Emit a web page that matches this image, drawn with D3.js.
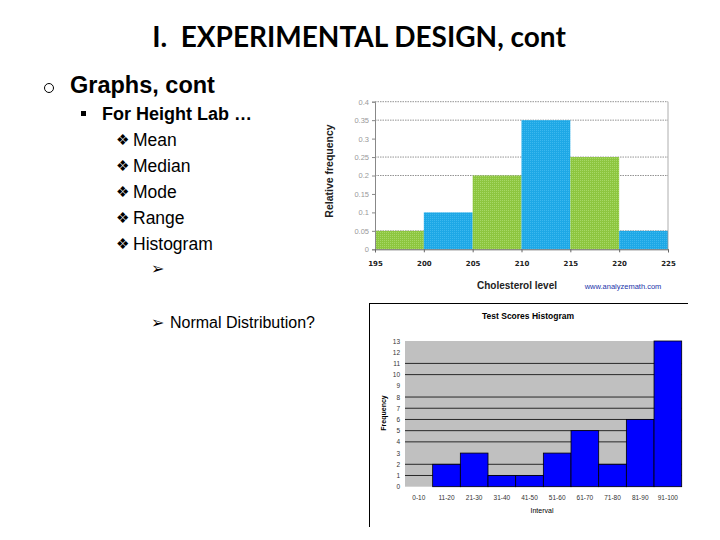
<!DOCTYPE html>
<html>
<head>
<meta charset="utf-8">
<script src="https://cdn.jsdelivr.net/npm/d3@7"></script>
<style>
  html, body { margin: 0; padding: 0; background: #fff; }
  svg { display: block; }
</style>
</head>
<body>
<div id="slide"></div>
<script>
// Cholesterol histogram (top chart)
const cholBins = [195, 200, 205, 210, 215, 220, 225];
const cholRelFreq = [0.05, 0.1, 0.2, 0.35, 0.25, 0.05];
const cholYTicks = [0, 0.05, 0.1, 0.15, 0.2, 0.25, 0.3, 0.35, 0.4];
const cholGrid = [0.05, 0.2, 0.25, 0.35, 0.4];

// Test scores histogram (bottom chart)
const scoreIntervals = ['0-10', '11-20', '21-30', '31-40', '41-50', '51-60', '61-70', '71-80', '81-90', '91-100'];
const scoreFreq = [0, 2, 3, 1, 1, 3, 5, 2, 6, 13];
const scoreYTicks = [0, 1, 2, 3, 4, 5, 6, 7, 8, 9, 10, 11, 12, 13];
const scoreGrid = [1, 2, 4, 5, 6, 7, 8, 10, 11];

const bullets = ['Mean', 'Median', 'Mode', 'Range', 'Histogram'];

const W = 720, H = 540;
const svg = d3.select('#slide').append('svg').attr('width', W).attr('height', H);
svg.append('rect').attr('width', W).attr('height', H).attr('fill', '#fff');

const sans = "'Liberation Sans', Arial, sans-serif";

// ---- slide text ----
svg.append('text')
    .attr('x', 359).attr('y', 47)
    .attr('text-anchor', 'middle')
    .style('white-space', 'pre')
    .style('font-family', "Lato, 'Open Sans', sans-serif")
    .style('font-weight', 'bold')
    .style('font-size', '28px')
    .text('I.  EXPERIMENTAL DESIGN, cont');

svg.append('circle').attr('cx', 49).attr('cy', 88).attr('r', 4.5)
    .attr('fill', 'none').attr('stroke', '#000').attr('stroke-width', 1);
svg.append('text').attr('x', 70).attr('y', 93)
    .style('font-family', sans).style('font-weight', 'bold').style('font-size', '23.5px')
    .text('Graphs, cont');

svg.append('rect').attr('x', 81).attr('y', 111).attr('width', 5).attr('height', 5).attr('fill', '#000');
svg.append('text').attr('x', 102).attr('y', 120)
    .style('font-family', sans).style('font-weight', 'bold').style('font-size', '18px')
    .text('For Height Lab …');

bullets.forEach((b, i) => {
    const y = 146 + i * 26;
    svg.append('text').attr('x', 116).attr('y', y - 1)
        .style('font-family', "'DejaVu Sans', sans-serif").style('font-size', '15px')
        .text('❖');
    svg.append('text').attr('x', 133).attr('y', y)
        .style('font-family', sans).style('font-size', '17.5px')
        .text(b);
});

svg.append('text').attr('x', 151).attr('y', 274)
    .style('font-family', "'DejaVu Sans', sans-serif").style('font-size', '16px')
    .text('➢');
svg.append('text').attr('x', 151).attr('y', 328)
    .style('font-family', "'DejaVu Sans', sans-serif").style('font-size', '16px')
    .text('➢');
svg.append('text').attr('x', 170).attr('y', 328)
    .style('font-family', sans).style('font-size', '16px')
    .text('Normal Distribution?');

// ---- top chart: cholesterol ----
(function drawCholesterol() {
    const x = d3.scaleLinear().domain([195, 225]).range([375, 668]);
    const y = d3.scaleLinear().domain([0, 0.4]).range([249.3, 101.7]);
    const g = svg.append('g');

    const defs = svg.append('defs');
    [['dotG', '#8DC63F', '#a6d866'], ['dotB', '#1EA8E6', '#3cb8ee']].forEach(([id, base, dot]) => {
        const p = defs.append('pattern').attr('id', id).attr('patternUnits', 'userSpaceOnUse')
            .attr('width', 2).attr('height', 2);
        p.append('rect').attr('width', 2).attr('height', 2).attr('fill', base);
        p.append('rect').attr('width', 1).attr('height', 1).attr('fill', dot);
    });

    g.selectAll('line.grid').data(cholGrid).join('line')
        .attr('x1', x(195)).attr('x2', x(225))
        .attr('y1', d => y(d)).attr('y2', d => y(d))
        .attr('stroke', '#777').attr('stroke-width', 0.8).attr('stroke-dasharray', '1.5,1');

    const bars = cholRelFreq.map((v, i) => ({ x0: cholBins[i], x1: cholBins[i + 1], v, i }));
    g.selectAll('rect.bar').data(bars).join('rect')
        .attr('x', d => x(d.x0)).attr('width', d => x(d.x1) - x(d.x0))
        .attr('y', d => y(d.v)).attr('height', d => y(0) - y(d.v))
        .attr('fill', d => d.i % 2 === 0 ? 'url(#dotG)' : 'url(#dotB)');

    const yAxis = d3.axisLeft(y).tickValues(cholYTicks).tickSize(3).tickFormat(d => d3.format('~g')(d));
    const ya = g.append('g').attr('transform', `translate(${x(195)},0)`).call(yAxis);
    ya.select('.domain').attr('stroke', '#888');
    ya.selectAll('.tick line').attr('stroke', '#888');
    ya.selectAll('text').attr('fill', '#999').style('font-family', sans).style('font-size', '7.5px');

    g.append('line').attr('x1', x(225)).attr('x2', x(225)).attr('y1', y(0.4)).attr('y2', y(0))
        .attr('stroke', '#999').attr('stroke-width', 0.8);

    const xAxis = d3.axisBottom(x).tickValues(cholBins).tickSize(3).tickFormat(d3.format('d'));
    const xa = g.append('g').attr('transform', `translate(0,${y(0)})`).call(xAxis);
    xa.select('.domain').attr('stroke', '#666');
    xa.selectAll('.tick line').attr('stroke', '#666');
    xa.selectAll('text').attr('dy', '1.5em').attr('fill', '#222')
        .style('font-family', "'DejaVu Sans', sans-serif").style('font-weight', 'bold').style('font-size', '7px');

    g.append('text').attr('transform', 'translate(333,171) rotate(-90)')
        .attr('text-anchor', 'middle')
        .style('font-family', sans).style('font-weight', 'bold').style('font-size', '10.5px')
        .attr('fill', '#222')
        .text('Relative frequency');
    g.append('text').attr('x', 517).attr('y', 289)
        .attr('text-anchor', 'middle')
        .style('font-family', sans).style('font-weight', 'bold').style('font-size', '10px')
        .attr('fill', '#222')
        .text('Cholesterol level');
    g.append('text').attr('x', 623).attr('y', 289)
        .attr('text-anchor', 'middle')
        .style('font-family', sans).style('font-size', '7.5px')
        .attr('fill', '#2233aa')
        .text('www.analyzemath.com');
})();

// ---- bottom chart: test scores ----
(function drawScores() {
    const x = d3.scaleBand().domain(scoreIntervals).range([405, 681.7]).padding(0);
    const y = d3.scaleLinear().domain([0, 13]).range([486.7, 341]);
    const g = svg.append('g');

    g.append('line').attr('x1', 369).attr('x2', 688).attr('y1', 303.5).attr('y2', 303.5)
        .attr('stroke', '#000').attr('stroke-width', 1);
    g.append('line').attr('x1', 369.5).attr('x2', 369.5).attr('y1', 303).attr('y2', 527)
        .attr('stroke', '#000').attr('stroke-width', 1);

    g.append('rect').attr('x', 405).attr('y', y(13)).attr('width', x.range()[1] - 405)
        .attr('height', y(0) - y(13)).attr('fill', '#c0c0c0');

    g.selectAll('line.grid').data(scoreGrid).join('line')
        .attr('x1', 405).attr('x2', x.range()[1])
        .attr('y1', d => y(d)).attr('y2', d => y(d))
        .attr('stroke', '#000').attr('stroke-width', 0.8);

    g.selectAll('rect.bar').data(scoreIntervals.map((c, i) => ({ c, v: scoreFreq[i] })).filter(d => d.v > 0))
        .join('rect')
        .attr('x', d => x(d.c)).attr('width', x.bandwidth())
        .attr('y', d => y(d.v)).attr('height', d => y(0) - y(d.v))
        .attr('fill', '#0000ff').attr('stroke', '#000').attr('stroke-width', 0.8);

    const yAxis = d3.axisLeft(y).tickValues(scoreYTicks).tickSize(0).tickPadding(5);
    const ya = g.append('g').attr('transform', 'translate(405,0)').call(yAxis);
    ya.select('.domain').remove();
    ya.selectAll('text').attr('fill', '#333').style('font-family', sans).style('font-size', '6.5px');

    const xAxis = d3.axisBottom(x).tickSize(0).tickPadding(9);
    const xa = g.append('g').attr('transform', `translate(0,${y(0)})`).call(xAxis);
    xa.select('.domain').remove();
    xa.selectAll('text').attr('fill', '#333').style('font-family', sans).style('font-size', '6.5px');

    g.append('text').attr('x', 528).attr('y', 319)
        .attr('text-anchor', 'middle')
        .style('font-family', sans).style('font-weight', 'bold').style('font-size', '8.5px')
        .text('Test Scores Histogram');
    g.append('text').attr('transform', 'translate(386,413) rotate(-90)')
        .attr('text-anchor', 'middle')
        .style('font-family', sans).style('font-weight', 'bold').style('font-size', '7px')
        .text('Frequency');
    g.append('text').attr('x', 542).attr('y', 513)
        .attr('text-anchor', 'middle')
        .style('font-family', sans).style('font-size', '7px')
        .text('Interval');
})();
</script>
</body>
</html>
